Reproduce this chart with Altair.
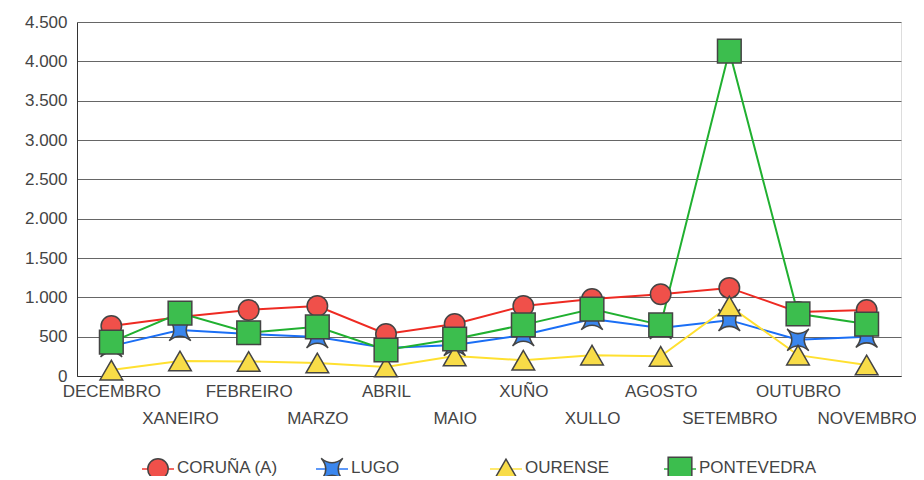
import altair as alt
import pandas as pd

months = ["DECEMBRO", "XANEIRO", "FEBREIRO", "MARZO", "ABRIL", "MAIO",
          "XUÑO", "XULLO", "AGOSTO", "SETEMBRO", "OUTUBRO", "NOVEMBRO"]
provinces = ["CORUÑA (A)", "LUGO", "OURENSE", "PONTEVEDRA"]

coruna = [635, 750, 840, 890, 535, 660, 890, 980, 1040, 1120, 815, 840]
lugo = [380, 585, 535, 495, 355, 395, 520, 725, 610, 710, 460, 500]
ourense = [75, 190, 185, 165, 115, 255, 200, 265, 250, 890, 265, 140]
pontevedra = [430, 800, 550, 625, 330, 470, 650, 850, 650, 4130, 790, 660]

y_ticks = [0, 500, 1000, 1500, 2000, 2500, 3000, 3500, 4000, 4500]

line_colors = ["#EE2A22", "#1A6EF5", "#FFE030", "#20B030"]
fill_colors = ["#F0504A", "#3A86EE", "#F8DC48", "#3CBE4E"]
star = "M-1,-1 Q0,-0.15 1,-1 Q0.15,0 1,1 Q0,0.15 -1,1 Q-0.15,0 -1,-1 Z"
shapes = ["circle", star, "triangle-up", "square"]
sizes = [420, 560, 340, 320]

series = [coruna, lugo, ourense, pontevedra]
rows = []
for p, vals in zip(provinces, series):
    for m, v in zip(months, vals):
        rows.append({"mes": m, "provincia": p, "valor": v})
df = pd.DataFrame(rows)
legend_df = pd.DataFrame({"provincia": provinces})

FONT = "Liberation Sans"
second_row = months[1::2]
x_label_expr = ("indexof(" + str(second_row) + ", datum.value) >= 0 ? ['', datum.label] : datum.label")

x_enc = alt.X("mes:N", sort=months, title=None,
              scale=alt.Scale(paddingInner=0, paddingOuter=0),
              axis=alt.Axis(labelAngle=0, ticks=False, labelExpr=x_label_expr,
                            labelLineHeight=27, labelPadding=7, labelBaseline="top",
                            domainColor="#333", labelColor="#444", labelFont=FONT,
                            labelFontSize=17, labelOverlap=False, grid=False))
y_enc = alt.Y("valor:Q", title=None,
              scale=alt.Scale(domain=[0, 4500], nice=False),
              axis=alt.Axis(values=y_ticks, ticks=False, labelPadding=10,
                            labelExpr="replace(format(datum.value, ','), ',', '.')",
                            domainColor="#333", gridColor="#666", gridWidth=1,
                            labelColor="#444", labelFont=FONT, labelFontSize=17))

color_scale = alt.Scale(domain=provinces, range=line_colors)
fill_scale = alt.Scale(domain=provinces, range=fill_colors)
shape_scale = alt.Scale(domain=provinces, range=shapes)
size_scale = alt.Scale(domain=provinces, range=sizes)

lines = alt.Chart(df).mark_line(strokeWidth=2).encode(
    x=x_enc, y=y_enc,
    color=alt.Color("provincia:N", scale=color_scale, legend=None),
    detail="provincia:N",
)

points = alt.Chart(df).mark_point(filled=True, opacity=1, stroke="#444", strokeWidth=1.5).encode(
    x=x_enc, y=y_enc,
    fill=alt.Fill("provincia:N", scale=fill_scale, legend=None),
    shape=alt.Shape("provincia:N", scale=shape_scale, legend=None),
    size=alt.Size("provincia:N", scale=size_scale, legend=None),
)

# manual legend along the bottom
leg_x = alt.X("provincia:N", axis=None,
              scale=alt.Scale(type="point", domain=provinces, range=[81, 603], padding=0))
LEG_Y = 447

leg_lines = alt.Chart(legend_df).mark_tick(orient="horizontal", size=32, thickness=2).encode(
    x=leg_x, y=alt.value(LEG_Y),
    color=alt.Color("provincia:N", scale=color_scale, legend=None),
)
leg_points = alt.Chart(legend_df).mark_point(filled=True, opacity=1, stroke="#444", strokeWidth=1.5).encode(
    x=leg_x, y=alt.value(LEG_Y),
    fill=alt.Fill("provincia:N", scale=fill_scale, legend=None),
    shape=alt.Shape("provincia:N", scale=shape_scale, legend=None),
    size=alt.Size("provincia:N", scale=size_scale, legend=None),
)
leg_text = alt.Chart(legend_df).mark_text(align="left", baseline="middle", dx=19, dy=-1,
                                          font=FONT, fontSize=17, color="#444").encode(
    x=leg_x, y=alt.value(LEG_Y), text="provincia:N",
)

main = alt.layer(lines, points)
legend_layer = alt.layer(leg_lines, leg_points, leg_text)

chart = alt.layer(main, legend_layer).resolve_scale(
    x="independent"
).properties(
    width=824, height=354,
    autosize=alt.AutoSizeParams(type="none"),
    padding={"left": 69, "top": 14, "right": 15, "bottom": 100},
).configure_view(stroke="#999", strokeWidth=1).configure(background="white")

chart.save("out.html", embed_options={"renderer": "svg", "actions": False})
